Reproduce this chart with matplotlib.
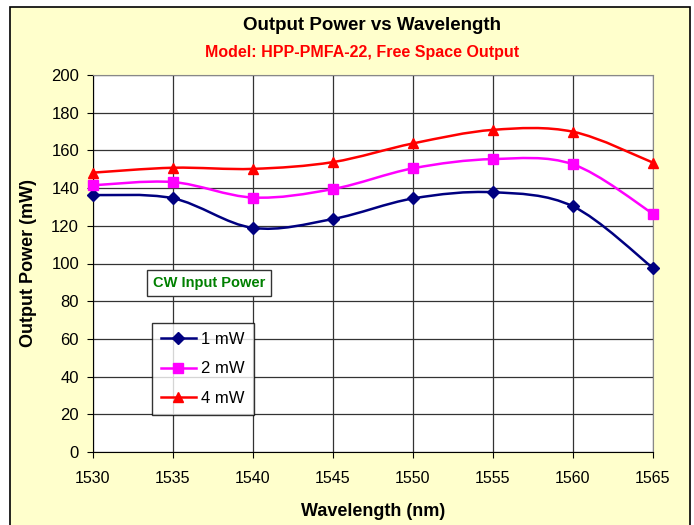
import matplotlib.pyplot as plt
import numpy as np
from matplotlib.path import Path
from matplotlib.patches import PathPatch, Rectangle
from matplotlib.lines import Line2D

plt.rcParams['font.family'] = ['Liberation Sans', 'DejaVu Sans']

# данные
wavelength = [1530, 1535, 1540, 1545, 1550, 1555, 1560, 1565]
p_1mw = [136.3, 134.6, 118.9, 123.6, 134.5, 137.8, 130.3, 97.6]
p_2mw = [141.5, 143.2, 135.0, 139.5, 150.5, 155.4, 152.6, 126.4]
p_4mw = [148.2, 150.8, 150.2, 153.8, 163.7, 170.9, 169.9, 153.5]
series_names = ['1 mW', '2 mW', '4 mW']

bg = '#FFFFCC'


# сглаженная линия (как в Excel) через кривые Безье
def smooth_path(x, y):
    p = np.column_stack([x, y]).astype(float)
    ext = np.vstack([p[0], p, p[-1]])
    verts = [p[0]]
    codes = [Path.MOVETO]
    for i in range(len(p) - 1):
        p0, p1, p2, p3 = ext[i], ext[i + 1], ext[i + 2], ext[i + 3]
        c1 = p1 + (p2 - p0) / 6
        c2 = p2 - (p3 - p1) / 6
        verts += [c1, c2, p2]
        codes += [Path.CURVE4] * 3
    return Path(verts, codes)


fig = plt.figure(figsize=(6.94, 5.25), dpi=100)
fig.patch.set_facecolor('white')
fig.patches.append(Rectangle((10 / 694, -0.01), 680 / 694, 1 - 7 / 525 + 0.01,
                             transform=fig.transFigure, facecolor=bg,
                             edgecolor='black', linewidth=1.2, zorder=-10))

ax = fig.add_axes([93 / 694, 1 - 452 / 525, 560 / 694, 377 / 525])
ax.set_facecolor('white')

styles = [('#000080', 'D', 6), ('#FF00FF', 's', 6.5), ('#FF0000', '^', 7.5)]
handles = []
for vals, name, (c, m, ms) in zip([p_1mw, p_2mw, p_4mw], series_names, styles):
    ax.add_patch(PathPatch(smooth_path(wavelength, vals), facecolor='none',
                           edgecolor=c, linewidth=1.8, zorder=3))
    ax.plot(wavelength, vals, linestyle='none', marker=m, ms=ms, color=c,
            zorder=4, clip_on=False)
    handles.append(Line2D([], [], color=c, lw=1.8, marker=m, ms=ms, label=name))

ax.set_xlim(1530, 1565)
ax.set_ylim(0, 200)
ax.set_xticks(range(1530, 1566, 5))
ax.set_yticks(range(0, 201, 20))
ax.grid(True, color='#333333', linewidth=0.9)
ax.set_axisbelow(True)
for s in ['top', 'right']:
    ax.spines[s].set_color('#888888')
for s in ['left', 'bottom']:
    ax.spines[s].set_color('black')
ax.tick_params(axis='both', length=4, direction='out')
ax.tick_params(axis='y', labelsize=12, pad=6)
ax.tick_params(axis='x', labelsize=11.5, pad=10)

ax.set_xlabel('Wavelength (nm)', fontsize=13, fontweight='bold', labelpad=12)
ax.set_ylabel('Output Power (mW)', fontsize=13, fontweight='bold', labelpad=10)

fig.text(372 / 694, 1 - 25 / 525, 'Output Power vs Wavelength', ha='center',
         va='center', fontsize=13.5, fontweight='bold')
fig.text(362 / 694, 1 - 52 / 525, 'Model: HPP-PMFA-22, Free Space Output',
         ha='center', va='center', fontsize=11.5, fontweight='bold', color='red')

ax.text(0.207, 0.448, 'CW Input Power', transform=ax.transAxes, ha='center',
        va='center', fontsize=10.5, fontweight='bold', color='#008000',
        bbox=dict(boxstyle='square,pad=0.4', facecolor='white',
                  edgecolor='#333333', linewidth=1))

leg = ax.legend(handles=handles, loc='upper left', bbox_to_anchor=(0.105, 0.342),
                borderaxespad=0, fontsize=12, frameon=True, fancybox=False,
                handlelength=2.1, labelspacing=0.85, borderpad=0.55,
                handletextpad=0.3)
leg.get_frame().set_edgecolor('black')
leg.get_frame().set_linewidth(1)

fig.savefig('out.png', dpi=100, facecolor=fig.get_facecolor())
